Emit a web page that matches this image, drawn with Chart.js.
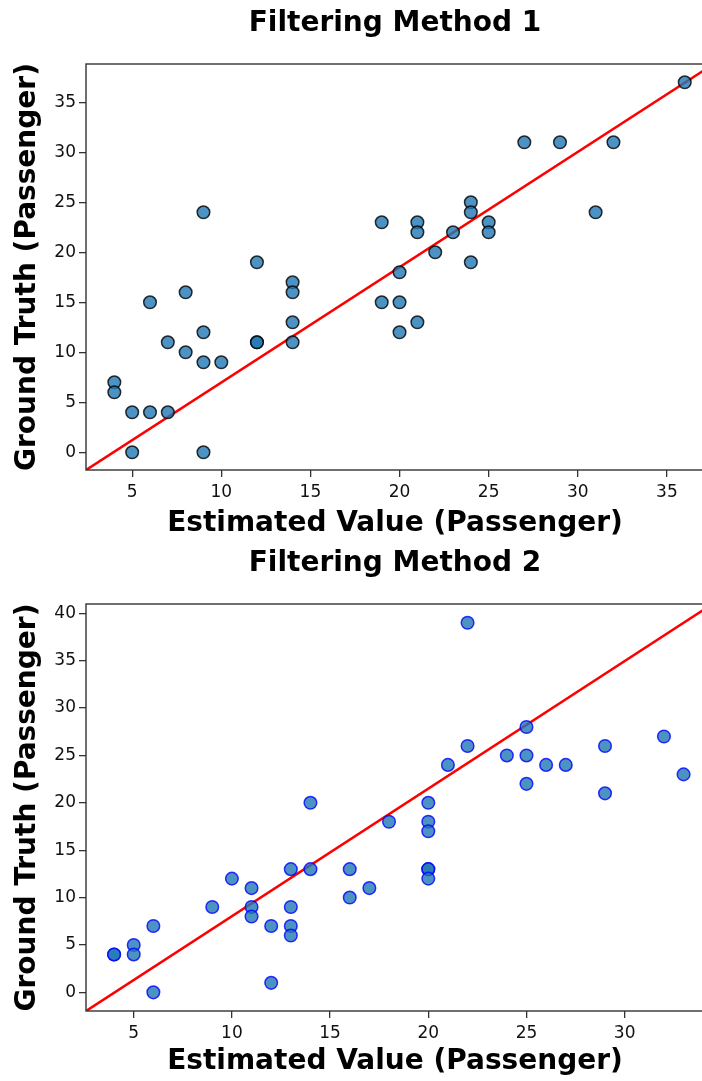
<!DOCTYPE html>
<html>
<head>
<meta charset="utf-8">
<script src="https://cdn.jsdelivr.net/npm/chart.js@4.4.1/dist/chart.umd.min.js"></script>
<style>
  body { margin: 0; width: 702px; height: 1081px; overflow: hidden; background: #fff; position: relative; }
  .box { position: absolute; left: 0; width: 712px; height: 545px; }
</style>
</head>
<body>
<div class="box" style="top:0"><canvas id="chart1"></canvas></div>
<div class="box" style="top:536px"><canvas id="chart2"></canvas></div>
<script>
// Filtering Method 1 -- estimated (x) vs ground truth (y)
const est1 = [4, 4, 5, 6, 7, 5, 9, 6, 7, 8, 8, 9, 9, 9, 10, 12, 12, 12, 14, 14, 14, 14,
              19, 19, 20, 20, 20, 21, 21, 21, 22, 23, 24, 24, 24, 25, 25, 27, 29, 32, 31, 36];
const truth1 = [7, 6, 4, 4, 4, 0, 0, 15, 11, 10, 16, 9, 12, 24, 9, 11, 11, 19, 17, 16, 13, 11,
                23, 15, 18, 15, 12, 23, 22, 13, 20, 22, 25, 24, 19, 23, 22, 31, 31, 31, 24, 37];
const fitX1 = [2.41, 37.08];
const fitY1 = [-1.77, 38.2];
const xTicks1 = [5, 10, 15, 20, 25, 30, 35];
const yTicks1 = [0, 5, 10, 15, 20, 25, 30, 35];

// Filtering Method 2
const est2 = [4, 4, 5, 5, 6, 6, 9, 10, 11, 11, 11, 12, 12, 13, 13, 13, 13, 14, 14, 16, 16, 17, 18,
              20, 20, 20, 20, 20, 20, 21, 22, 22, 24, 25, 25, 25, 26, 27, 29, 29, 32, 33];
const truth2 = [4, 4, 5, 4, 7, 0, 9, 12, 11, 9, 8, 7, 1, 13, 9, 7, 6, 20, 13, 13, 10, 11, 18,
                20, 18, 17, 13, 13, 12, 24, 26, 39, 25, 28, 25, 22, 24, 24, 26, 21, 27, 23];
const fitX2 = [2.57, 34.04];
const fitY2 = [-1.97, 40.4];
const xTicks2 = [5, 10, 15, 20, 25, 30];
const yTicks2 = [0, 5, 10, 15, 20, 25, 30, 35, 40];

const FONT = "'DejaVu Sans', sans-serif";
const CW = 712, CH = 545;

// draws the four spines around the plot area
const frame = {
  id: 'frame',
  afterDraw(chart) {
    const a = chart.chartArea, ctx = chart.ctx;
    ctx.save();
    ctx.strokeStyle = '#333';
    ctx.lineWidth = 1.4;
    ctx.strokeRect(a.left, a.top, a.right - a.left, a.bottom - a.top);
    ctx.restore();
  }
};

function axis(min, max, tickVals, title, pos, fit, titlePad, tickPad) {
  return {
    type: 'linear', position: pos, min: min, max: max,
    afterBuildTicks: s => { s.ticks = tickVals.map(v => ({ value: v })); },
    afterFit: fit,
    grid: { drawOnChartArea: false, drawTicks: true, tickLength: 7, color: '#333', lineWidth: 1.3 },
    border: { display: false },
    ticks: { color: '#111', font: { family: FONT, size: 17 }, padding: tickPad, maxRotation: 0, autoSkip: false },
    title: { display: true, text: title, color: '#000', padding: titlePad,
             font: { family: FONT, size: 28, weight: 'bold' } }
  };
}

function makeChart(id, xs, ys, fx, fy, xr, yr, xt, yt, title, edge, lay) {
  const pts = xs.map((x, i) => ({ x: x, y: ys[i] }));
  const fit = fx.map((x, i) => ({ x: x, y: fy[i] }));
  return new Chart(document.getElementById(id), {
    type: 'scatter',
    data: {
      datasets: [
        { data: pts, backgroundColor: 'rgba(31,119,180,0.8)', borderColor: edge,
          borderWidth: 1.5, pointRadius: 6.3, pointHoverRadius: 6.3, order: 0 },
        { type: 'line', data: fit, borderColor: '#ff0000', borderWidth: 2.6,
          pointRadius: 0, fill: false, order: 1 }
      ]
    },
    options: {
      responsive: false, animation: false, maintainAspectRatio: false,
      layout: { padding: { left: 0, right: CW - 704, top: 0, bottom: 0 } },
      plugins: {
        legend: { display: false }, tooltip: { enabled: false },
        title: { display: true, text: title, color: '#000', fullSize: false,
                 font: { family: FONT, size: 28, weight: 'bold' },
                 padding: { top: lay.titleTop, bottom: lay.titleBottom } }
      },
      scales: {
        x: axis(xr[0], xr[1], xt, 'Estimated Value (Passenger)', 'bottom',
                s => { s.height = lay.xH; }, { top: 0, bottom: lay.xPad }, 5),
        y: axis(yr[0], yr[1], yt, 'Ground Truth (Passenger)', 'left',
                s => { s.width = 86; }, { top: 11, bottom: 0 }, 3)
      }
    },
    plugins: [frame]
  });
}

for (const id of ['chart1', 'chart2']) {
  const c = document.getElementById(id);
  c.width = CW; c.height = CH;
  c.style.width = CW + 'px'; c.style.height = CH + 'px';
}

makeChart('chart1', est1, truth1, fitX1, fitY1, [2.41, 37.08], [-1.77, 38.83], xTicks1, yTicks1,
  'Filtering Method 1', 'rgba(0,0,0,0.8)', { titleTop: 7, titleBottom: 23.4, xH: 75, xPad: 4 });
makeChart('chart2', est2, truth2, fitX2, fitY2, [2.57, 34.04], [-1.97, 40.98], xTicks2, yTicks2,
  'Filtering Method 2', 'rgba(0,0,255,0.8)', { titleTop: 11, titleBottom: 23.4, xH: 70, xPad: 2 });
</script>
</body>
</html>
